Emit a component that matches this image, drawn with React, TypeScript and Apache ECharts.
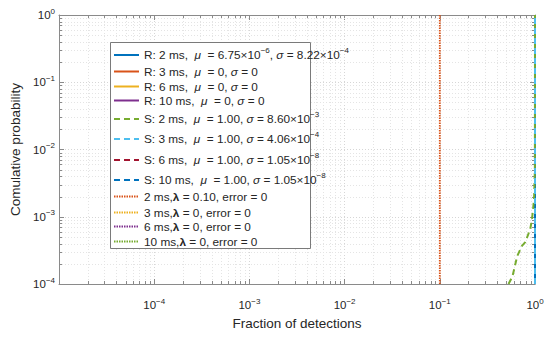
import React, { useEffect, useRef } from 'react';
import * as echarts from 'echarts';

// Axis ranges
const xMin = 1e-5;
const xMax = 1;
const yMin = 1e-4;
const yMax = 1;

// Series (legend order)
const seriesNames = [
  'R: 2 ms', 'R: 3 ms', 'R: 6 ms', 'R: 10 ms',
  'S: 2 ms', 'S: 3 ms', 'S: 6 ms', 'S: 10 ms',
  '2 ms, λ', '3 ms, λ', '6 ms, λ', '10 ms, λ',
];
const seriesColors = [
  '#0072BD', '#D95319', '#EDB120', '#7E2F8E',
  '#77AC30', '#4DBEEE', '#A2142F', '#0072BD',
  '#D95319', '#EDB120', '#7E2F8E', '#77AC30',
];
const seriesDash = [
  'solid', 'solid', 'solid', 'solid',
  'dashed', 'dashed', 'dashed', 'dashed',
  'dotted', 'dotted', 'dotted', 'dotted',
];
const seriesLabels = [
  '{nt|R: 2 ms,  }{it|μ}{nt|  = 6.75×10}{s|−6}{nt|, }{it|σ}{nt| = 8.22×10}{s|−4}',
  '{n|R: 3 ms,  }{i|μ}{n|  = 0, }{i|σ}{n| = 0}',
  '{n|R: 6 ms,  }{i|μ}{n|  = 0, }{i|σ}{n| = 0}',
  '{n|R: 10 ms,  }{i|μ}{n|  = 0, }{i|σ}{n| = 0}',
  '{nt|S: 2 ms,  }{it|μ}{nt|  = 1.00, }{it|σ}{nt| = 8.60×10}{s|−3}',
  '{nt|S: 3 ms,  }{it|μ}{nt|  = 1.00, }{it|σ}{nt| = 4.06×10}{s|−4}',
  '{nt|S: 6 ms,  }{it|μ}{nt|  = 1.00, }{it|σ}{nt| = 1.05×10}{s|−8}',
  '{nt|S: 10 ms,  }{it|μ}{nt|  = 1.00, }{it|σ}{nt| = 1.05×10}{s|−8}',
  '{n|2 ms,}{b|λ}{n| = 0.10, error = 0}',
  '{n|3 ms,}{b|λ}{n| = 0, error = 0}',
  '{n|6 ms,}{b|λ}{n| = 0, error = 0}',
  '{n|10 ms,}{b|λ}{n| = 0, error = 0}',
];
const hasSup = [true, false, false, false, true, true, true, true, false, false, false, false];

// Data (fraction of detections, cumulative probability)
const r2Fraction = [1, 1];
const r2Prob = [1e-4, 1];
const s2Fraction = [0.527, 0.58, 0.65, 0.73, 0.79, 0.89, 0.93, 0.977, 0.997, 0.999, 1];
const s2Prob = [1e-4, 1.3e-4, 2.6e-4, 3.7e-4, 4.2e-4, 6.5e-4, 9.2e-4, 1.8e-3, 5e-3, 0.1, 1];
const s3Fraction = [1, 1];
const s3Prob = [1e-4, 1];
const l2Fraction = [0.1, 0.1];
const l2Prob = [1e-4, 1];

const seriesData: number[][][] = [
  r2Fraction.map((x, i) => [x, r2Prob[i]]),
  [], [], [],
  s2Fraction.map((x, i) => [x, s2Prob[i]]),
  s3Fraction.map((x, i) => [x, s3Prob[i]]),
  [], [],
  l2Fraction.map((x, i) => [x, l2Prob[i]]),
  [], [], [],
];

// Minor grid positions
const xDecades = [-5, -4, -3, -2, -1];
const yDecades = [-4, -3, -2, -1];
const minorMultipliers = [2, 3, 4, 5, 6, 7, 8, 9];
const xMinor: number[] = [];
xDecades.forEach((d) => minorMultipliers.forEach((m) => xMinor.push(m * Math.pow(10, d))));
const yMinor: number[] = [];
yDecades.forEach((d) => minorMultipliers.forEach((m) => yMinor.push(m * Math.pow(10, d))));

// Legend layout (row centres, pixels)
const legendRowCenters = [55, 72, 87, 101, 119, 139, 160, 180, 197, 213, 227, 242];
const legendBox = { x: 110, y: 42, w: 200, h: 206 };

const FONT = '"Liberation Sans", Arial, Helvetica, sans-serif';
const TXT = '#262626';
const AX = '#8a8a8a';
const LFS = 11.8;

const expLabel = (v: number) => {
  const e = Math.round(Math.log10(v));
  const s = e < 0 ? '−' + String(-e) : String(e);
  return `{b|10}{s|${s}}`;
};

const tickRich = {
  b: { fontSize: 11.5, lineHeight: 16, color: TXT, fontFamily: FONT },
  s: { fontSize: 8, verticalAlign: 'top', color: TXT, fontFamily: FONT },
};

const legendRich = {
  n: { fontSize: LFS, lineHeight: 13, color: TXT, fontFamily: FONT },
  nt: { fontSize: LFS, lineHeight: 17, color: TXT, fontFamily: FONT },
  i: { fontSize: LFS, lineHeight: 13, color: TXT, fontStyle: 'italic', fontFamily: FONT },
  it: { fontSize: LFS, lineHeight: 17, color: TXT, fontStyle: 'italic', fontFamily: FONT },
  b: { fontSize: LFS, lineHeight: 13, color: TXT, fontWeight: 'bold', fontFamily: FONT },
  s: { fontSize: 8, verticalAlign: 'top', color: TXT, fontFamily: FONT },
};

export default function App() {
  const ref = useRef<HTMLDivElement>(null);
  useEffect(() => {
    if (!ref.current) return;
    const chart = echarts.init(ref.current, undefined, { renderer: 'svg' });

    const lineSeries = seriesNames.map((name, i) => ({
      name,
      type: 'line',
      xAxisIndex: 0,
      yAxisIndex: 0,
      data: seriesData[i],
      symbol: 'none',
      showSymbol: false,
      z: 3,
      lineStyle: {
        color: seriesColors[i],
        type: seriesDash[i] === 'dashed' ? [6, 4] : seriesDash[i] === 'dotted' ? [1.5, 1] : 'solid',
        width: seriesDash[i] === 'dotted' ? 1.8 : 2,
      },
      itemStyle: { color: seriesColors[i] },
    }));

    const legends = seriesNames.map((name, i) => {
      const h = hasSup[i] ? 17 : 13;
      return {
        show: true,
        orient: 'horizontal',
        left: legendBox.x + 3,
        top: legendRowCenters[i] - h / 2,
        data: [name],
        itemWidth: 25,
        itemHeight: h,
        itemGap: 0,
        padding: 0,
        z: 5,
        selectedMode: false,
        itemStyle: { opacity: 0 },
        formatter: (nm: string) => seriesLabels[seriesNames.indexOf(nm)],
        textStyle: { color: TXT, fontFamily: FONT, fontSize: LFS, rich: legendRich },
      };
    });

    const option: any = {
      animation: false,
      textStyle: { fontFamily: FONT },
      grid: { left: 51, right: 15, top: 15, bottom: 54 },
      legend: legends,
      graphic: [
        {
          type: 'rect',
          left: legendBox.x,
          top: legendBox.y,
          z: 4,
          silent: true,
          shape: { width: legendBox.w, height: legendBox.h },
          style: { fill: '#ffffff', stroke: '#7a7a7a', lineWidth: 1 },
        },
      ],
      xAxis: [
        {
          type: 'log',
          logBase: 10,
          min: xMin,
          max: xMax,
          splitNumber: 5,
          name: 'Fraction of detections',
          nameLocation: 'middle',
          nameGap: 32,
          nameTextStyle: { fontSize: 13.5, color: TXT, fontFamily: FONT },
          axisLine: { show: true, lineStyle: { color: AX, width: 1 } },
          axisTick: { show: true, inside: true, length: 5, lineStyle: { color: AX } },
          axisLabel: {
            margin: 13,
            formatter: (v: number) => (Math.abs(Math.log10(v) + 5) < 1e-6 ? '' : expLabel(v)),
            rich: tickRich,
          },
          splitLine: { show: true, lineStyle: { color: '#d6d6d6', type: [1, 2], width: 1 } },
        },
        {
          type: 'log',
          logBase: 10,
          min: xMin,
          max: xMax,
          splitNumber: 5,
          position: 'top',
          axisLine: { show: true, lineStyle: { color: AX, width: 1 } },
          axisTick: { show: true, inside: true, length: 5, lineStyle: { color: AX } },
          axisLabel: { show: false },
          splitLine: { show: false },
        },
      ],
      yAxis: [
        {
          type: 'log',
          logBase: 10,
          min: yMin,
          max: yMax,
          splitNumber: 4,
          name: 'Comulative probability',
          nameLocation: 'middle',
          nameGap: 37,
          nameTextStyle: { fontSize: 13.5, color: TXT, fontFamily: FONT },
          axisLine: { show: true, lineStyle: { color: AX, width: 1 } },
          axisTick: { show: true, inside: true, length: 5, lineStyle: { color: AX } },
          axisLabel: { margin: 4, formatter: (v: number) => expLabel(v), rich: tickRich },
          splitLine: { show: true, lineStyle: { color: '#d6d6d6', type: [1, 2], width: 1 } },
        },
        {
          type: 'log',
          logBase: 10,
          min: yMin,
          max: yMax,
          splitNumber: 4,
          position: 'right',
          axisLine: { show: true, lineStyle: { color: AX, width: 1 } },
          axisTick: { show: true, inside: true, length: 5, lineStyle: { color: AX } },
          axisLabel: { show: false },
          splitLine: { show: false },
        },
      ],
      series: [
        {
          type: 'custom',
          name: 'xMinorGrid',
          silent: true,
          z: 1,
          xAxisIndex: 0,
          yAxisIndex: 0,
          data: xMinor.map((v) => [v, yMin]),
          renderItem: (params: any, api: any) => {
            const cs = params.coordSys;
            const px = Math.round(api.coord([api.value(0), yMin])[0]) + 0.5;
            const top = cs.y;
            const bot = cs.y + cs.height;
            return {
              type: 'group',
              children: [
                { type: 'line', shape: { x1: px, y1: top, x2: px, y2: bot }, style: { stroke: '#e4e4e4', lineWidth: 1, lineDash: [1, 2] } },
                { type: 'line', shape: { x1: px, y1: bot, x2: px, y2: bot - 3 }, style: { stroke: AX, lineWidth: 1 } },
                { type: 'line', shape: { x1: px, y1: top, x2: px, y2: top + 3 }, style: { stroke: AX, lineWidth: 1 } },
              ],
            };
          },
        },
        {
          type: 'custom',
          name: 'yMinorGrid',
          silent: true,
          z: 1,
          xAxisIndex: 0,
          yAxisIndex: 0,
          data: yMinor.map((v) => [xMax, v]),
          renderItem: (params: any, api: any) => {
            const cs = params.coordSys;
            const py = Math.round(api.coord([xMax, api.value(1)])[1]) + 0.5;
            const l = cs.x;
            const r = cs.x + cs.width;
            return {
              type: 'group',
              children: [
                { type: 'line', shape: { x1: l, y1: py, x2: r, y2: py }, style: { stroke: '#e4e4e4', lineWidth: 1, lineDash: [1, 2] } },
                { type: 'line', shape: { x1: l, y1: py, x2: l + 3, y2: py }, style: { stroke: AX, lineWidth: 1 } },
                { type: 'line', shape: { x1: r, y1: py, x2: r - 3, y2: py }, style: { stroke: AX, lineWidth: 1 } },
              ],
            };
          },
        },
        ...lineSeries,
      ],
    };
    chart.setOption(option);
    return () => chart.dispose();
  }, []);
  return (
    <div
      ref={ref}
      style={{ position: 'fixed', left: 0, top: 0, width: 550, height: 338, background: '#ffffff' }}
    />
  );
}
